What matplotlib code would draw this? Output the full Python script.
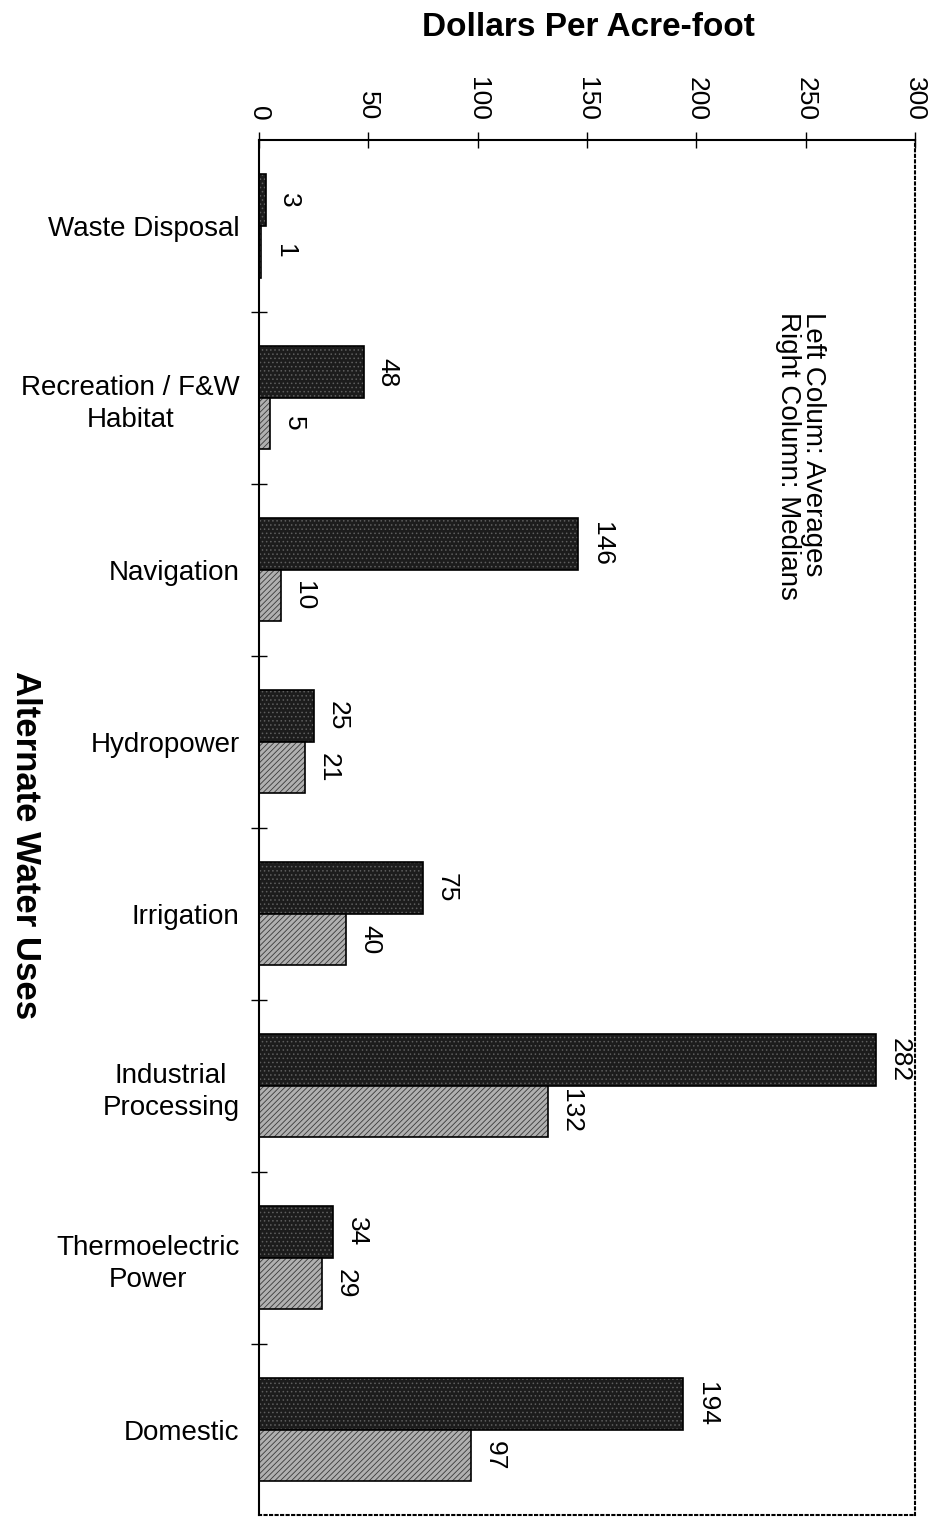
import numpy as np
import matplotlib
matplotlib.use("Agg")
import matplotlib.pyplot as plt

plt.rcParams['font.family'] = ['Liberation Sans', 'DejaVu Sans']
plt.rcParams['hatch.linewidth'] = 0.6

categories = ["Waste Disposal", "Recreation / F&W\nHabitat", "Navigation", "Hydropower",
              "Irrigation", "Industrial\nProcessing", "Thermoelectric\nPower", "Domestic"]
averages = [3, 48, 146, 25, 75, 282, 34, 194]
medians = [1, 5, 10, 21, 40, 132, 29, 97]
x_ticks = [0, 50, 100, 150, 200, 250, 300]

fig = plt.figure(figsize=(9.37, 15.17), dpi=100)
ax = fig.add_axes([0.2764, 0.001, 0.7001, 0.9067])

y = np.arange(len(categories))
h = 0.3

# averages: dark stipple, medians: gray hatch
ax.barh(y - h / 2, averages, height=h, color="#1c1c1c", edgecolor="#5e5e5e",
        hatch="....", linewidth=0)
ax.barh(y - h / 2, averages, height=h, fill=False, edgecolor="black", linewidth=1.2)
ax.barh(y + h / 2, medians, height=h, color="#b0b0b0", edgecolor="#3a3a3a",
        hatch="//////", linewidth=0)
ax.barh(y + h / 2, medians, height=h, fill=False, edgecolor="black", linewidth=1.2)

for yi, v in zip(y - h / 2, averages):
    ax.annotate(str(v), (v, yi), xytext=(17, 0), textcoords="offset points",
                rotation=-90, ha="center", va="center", fontsize=19)
for yi, v in zip(y + h / 2, medians):
    ax.annotate(str(v), (v, yi), xytext=(17, 0), textcoords="offset points",
                rotation=-90, ha="center", va="center", fontsize=19)

ax.set_xlim(0, 300)
ax.set_ylim(len(categories) - 0.5, -0.5)

ax.xaxis.tick_top()
ax.set_xticks(x_ticks)
ax.set_xticklabels([str(t) for t in x_ticks], rotation=-90, fontsize=19)
ax.tick_params(axis="x", direction="inout", length=12, width=1, pad=8)

ax.set_yticks(y)
ax.set_yticklabels(categories, fontsize=20, ha="right", multialignment="center",
                   linespacing=1.3)
ax.tick_params(axis="y", which="major", length=0, pad=14)
ax.set_yticks(np.arange(0.5, len(categories) - 0.5, 1), minor=True)
ax.tick_params(axis="y", which="minor", direction="inout", length=12, width=1)

ax.spines["left"].set_linewidth(1.5)
ax.spines["top"].set_linewidth(1.5)
for s in ["right", "bottom"]:
    ax.spines[s].set_linestyle(":")
    ax.spines[s].set_linewidth(1.5)

ax.text(0.825, 0.77, "Left Colum: Averages\nRight Column: Medians", transform=ax.transAxes,
        rotation=-90, ha="center", va="center", fontsize=20, multialignment="left",
        linespacing=0.95)

fig.text(0.628, 0.982, "Dollars Per Acre-foot", ha="center", va="center",
         fontsize=24, fontweight="bold")
fig.text(0.027, 0.443, "Alternate Water Uses", ha="center", va="center",
         rotation=-90, fontsize=25, fontweight="bold")

fig.savefig("out.png", dpi=100)
